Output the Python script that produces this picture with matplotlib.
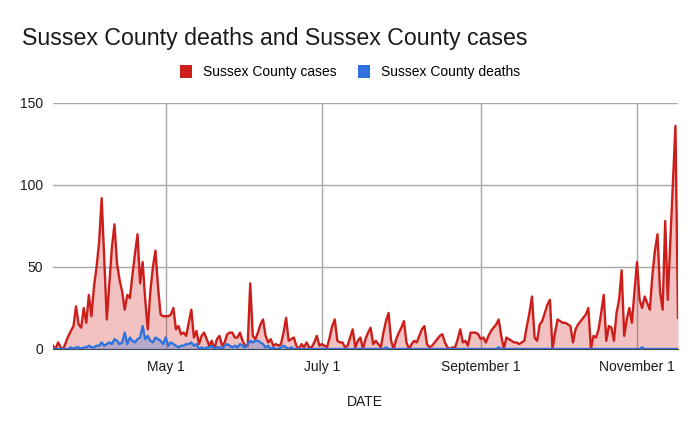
import numpy as np
import pandas as pd
import matplotlib.pyplot as plt
import matplotlib.dates as mdates
from matplotlib.patches import Patch

# daily values, starting 2020-03-18
START_DATE = "2020-03-18"

cases = [
    2, 0, 4, 1, 0, 4, 8, 11, 14, 26,
    15, 13, 25, 16, 33, 20, 38, 50, 65, 92,
    55, 18, 40, 62, 76, 52, 42, 35, 24, 33,
    31, 45, 58, 70, 40, 53, 30, 12, 35, 50,
    60, 38, 21, 20, 20, 20, 21, 25, 12, 14,
    9, 10, 8, 16, 24, 7, 11, 3, 8, 10,
    6, 2, 5, 0, 6, 8, 2, 4, 9, 10,
    10, 7, 7, 10, 5, 2, 2, 40, 8, 6,
    10, 15, 18, 8, 4, 6, 2, 3, 2, 3,
    10, 19, 5, 6, 7, 2, 0, 3, 1, 4,
    1, 1, 4, 8, 2, 3, 2, 1, 7, 14,
    18, 5, 4, 4, 1, 2, 7, 12, 1, 5,
    7, 0, 6, 10, 13, 3, 5, 3, 1, 10,
    17, 22, 5, 0, 6, 10, 13, 17, 4, 0,
    3, 5, 4, 8, 12, 14, 3, 1, 2, 4,
    6, 8, 9, 4, 1, 0, 1, 1, 6, 12,
    4, 5, 2, 10, 10, 10, 9, 6, 7, 4,
    8, 11, 13, 15, 18, 8, 0, 7, 6, 5,
    4, 4, 3, 4, 5, 14, 22, 32, 7, 5,
    15, 17, 22, 27, 30, 0, 10, 18, 17, 16,
    16, 15, 14, 4, 12, 15, 17, 19, 21, 25,
    0, 8, 7, 12, 22, 33, 5, 14, 13, 5,
    22, 30, 48, 8, 18, 25, 16, 35, 53, 30,
    25, 32, 28, 24, 45, 60, 70, 35, 24, 78,
    30, 65, 100, 136, 19,
]

deaths = [
    0, 0, 0, 0, 0, 0, 0, 1, 0, 1,
    1, 0, 1, 1, 2, 1, 1, 2, 2, 4,
    2, 3, 4, 3, 6, 5, 3, 4, 10, 3,
    7, 5, 4, 6, 7, 14, 6, 8, 5, 4,
    7, 6, 5, 3, 7, 2, 4, 3, 2, 1,
    2, 2, 3, 3, 4, 2, 3, 0, 1, 0,
    1, 1, 2, 0, 1, 1, 0, 2, 3, 2,
    1, 2, 1, 3, 2, 1, 3, 5, 4, 5,
    5, 4, 3, 1, 2, 0, 1, 0, 0, 1,
    2, 1, 0, 1, 0, 0, 0, 0, 0, 0,
    0, 0, 0, 0, 0, 0, 0, 0, 0, 0,
    0, 0, 0, 0, 0, 0, 0, 0, 0, 0,
    0, 0, 0, 0, 0, 0, 0, 0, 0, 0,
    1, 0, 0, 0, 0, 0, 0, 0, 0, 0,
    0, 0, 0, 0, 0, 0, 0, 0, 0, 0,
    0, 0, 0, 0, 0, 0, 0, 0, 0, 0,
    0, 0, 0, 0, 0, 0, 0, 0, 0, 0,
    0, 0, 0, 0, 1, 0, 0, 0, 0, 0,
    0, 0, 0, 0, 0, 0, 0, 0, 0, 0,
    0, 0, 0, 0, 0, 0, 0, 0, 0, 0,
    0, 0, 0, 0, 0, 0, 0, 0, 0, 0,
    0, 0, 0, 0, 0, 0, 0, 0, 0, 0,
    0, 0, 0, 0, 0, 0, 0, 0, 0, 0,
    1, 0, 0, 0, 0, 0, 0, 0, 0, 0,
    0, 0, 0, 0, 0,
]

tick_dates = ["2020-05-01", "2020-07-01", "2020-09-01", "2020-11-01"]
tick_labels = ["May 1", "July 1", "September 1", "November 1"]
y_ticks = [0, 50, 100, 150]

CASE_COLOR = "#cc1f1c"
DEATH_COLOR = "#2f72de"
GRID_COLOR = "#a8a8a8"
TEXT_COLOR = "#1a1a1a"

plt.rcParams["font.family"] = ["Liberation Sans", "DejaVu Sans"]

dates = pd.date_range(START_DATE, periods=len(cases), freq="D")

fig = plt.figure(figsize=(6.99, 4.32), dpi=100)
ax = fig.add_axes([53 / 699, 1 - 349 / 432, (678 - 53) / 699, (349 - 103) / 432])

ax.fill_between(dates, 0, cases, color=CASE_COLOR, alpha=0.27, linewidth=0, zorder=2)
ax.fill_between(dates, 0, deaths, color=DEATH_COLOR, alpha=0.3, linewidth=0, zorder=3)
ax.plot(dates, cases, color=CASE_COLOR, linewidth=1.7, zorder=4)
ax.plot(dates, deaths, color=DEATH_COLOR, linewidth=1.7, zorder=5)

ax.set_xlim(dates[0], dates[-1])
ax.set_ylim(0, 150)
ax.set_yticks(y_ticks)
ax.set_xticks(pd.to_datetime(tick_dates))
ax.set_xticklabels(tick_labels)
ax.grid(True, color=GRID_COLOR, linewidth=1.0, zorder=0)
ax.set_axisbelow(True)
for s in ["top", "right", "left"]:
    ax.spines[s].set_visible(False)
ax.spines["bottom"].set_color("#444444")
ax.tick_params(axis="both", length=0, labelsize=10, colors=TEXT_COLOR)
ax.tick_params(axis="x", pad=8)
ax.tick_params(axis="y", pad=7)

fig.text(22 / 699, 1 - 38 / 432, "Sussex County deaths and Sussex County cases",
         fontsize=16.7, color=TEXT_COLOR, va="center", ha="left")
fig.text(365 / 699, 1 - 402 / 432, "DATE", fontsize=10, color=TEXT_COLOR,
         ha="center", va="center")

handles = [Patch(facecolor=CASE_COLOR, edgecolor="none"),
           Patch(facecolor=DEATH_COLOR, edgecolor="none")]
fig.legend(handles, ["Sussex County cases", "Sussex County deaths"],
           loc="center", bbox_to_anchor=(350 / 699, 1 - 72 / 432), ncol=2,
           frameon=False, fontsize=10, handlelength=0.9, handleheight=1.1,
           handletextpad=0.8, columnspacing=1.5)

fig.savefig("out.png", dpi=100)
